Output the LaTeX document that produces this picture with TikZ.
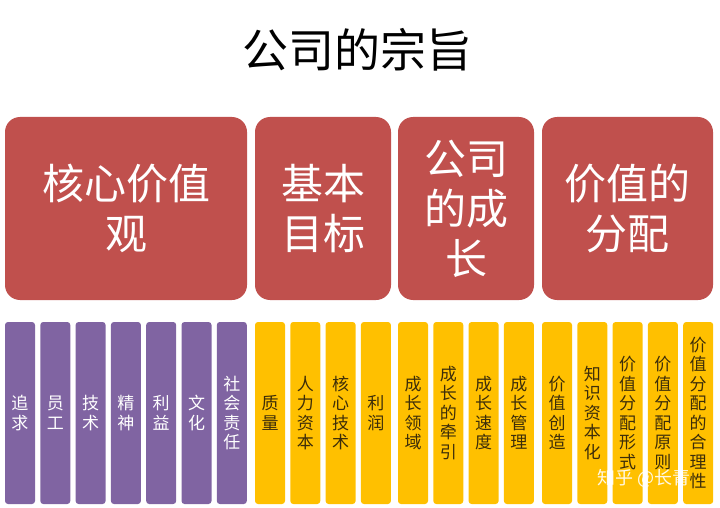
\documentclass[tikz,border=0pt]{standalone}
\usepackage{fontspec}
\setmainfont{Noto Sans CJK SC}
\definecolor{topicred}{RGB}{192,80,77}
\definecolor{itempurple}{RGB}{128,100,162}
\definecolor{itemyellow}{RGB}{255,192,0}
\definecolor{itemtext}{RGB}{60,45,10}

\begin{document}
\begin{tikzpicture}[x=1pt,y=-1pt,
    topic/.style={fill=topicred,rounded corners=15pt,text=white,align=center,
      inner sep=0pt,minimum height=183pt,font=\fontsize{42}{50}\selectfont},
    item/.style={rounded corners=3pt,minimum width=30pt,minimum height=182pt,
      inner sep=0pt,align=center,font=\fontsize{17}{19.5}\selectfont},
    purpleitem/.style={item,fill=itempurple,text=white},
    yellowitem/.style={item,fill=itemyellow,text=itemtext}]
  \useasboundingbox (0,0) rectangle (720,508);
  \node[font=\fontsize{46}{50}\selectfont] (title) at (357.5,50) {公司的宗旨};
  % four topics
  \node[topic,minimum width=242pt] (value) at (126,208.5) {核心价值\\观};
  \node[topic,minimum width=136pt] (goal) at (323,208.5) {基本\\目标};
  \node[topic,minimum width=136pt] (growth) at (466,208.5) {公司\\的成\\长};
  \node[topic,minimum width=171pt] (share) at (627.5,208.5) {价值的\\分配};
  % items under each topic
  \foreach \txt [count=\i] in {追\\求,员\\工,技\\术,精\\神,利\\益,文\\化,社\\会\\责\\任}
    \node[purpleitem] (v\i) at ({20+35.3*(\i-1)},413) {\txt};
  \foreach \txt [count=\i] in {质\\量,人\\力\\资\\本,核\\心\\技\\术,利\\润}
    \node[yellowitem] (g\i) at ({270+35.3*(\i-1)},413) {\txt};
  \foreach \txt [count=\i] in {成\\长\\领\\域,成\\长\\的\\牵\\引,成\\长\\速\\度,成\\长\\管\\理}
    \node[yellowitem] (c\i) at ({413+35.3*(\i-1)},413) {\txt};
  \foreach \txt [count=\i] in {价\\值\\创\\造,知\\识\\资\\本\\化,价\\值\\分\\配\\形\\式,
      价\\值\\分\\配\\原\\则,价\\值\\分\\配\\的\\合\\理\\性}
    \node[yellowitem] (s\i) at ({557+35.3*(\i-1)},413) {\txt};
  \node[text=white,opacity=0.9,font=\fontsize{18}{18}\selectfont] (mark) at (644,478) {知乎 @长青};
\end{tikzpicture}
\end{document}
